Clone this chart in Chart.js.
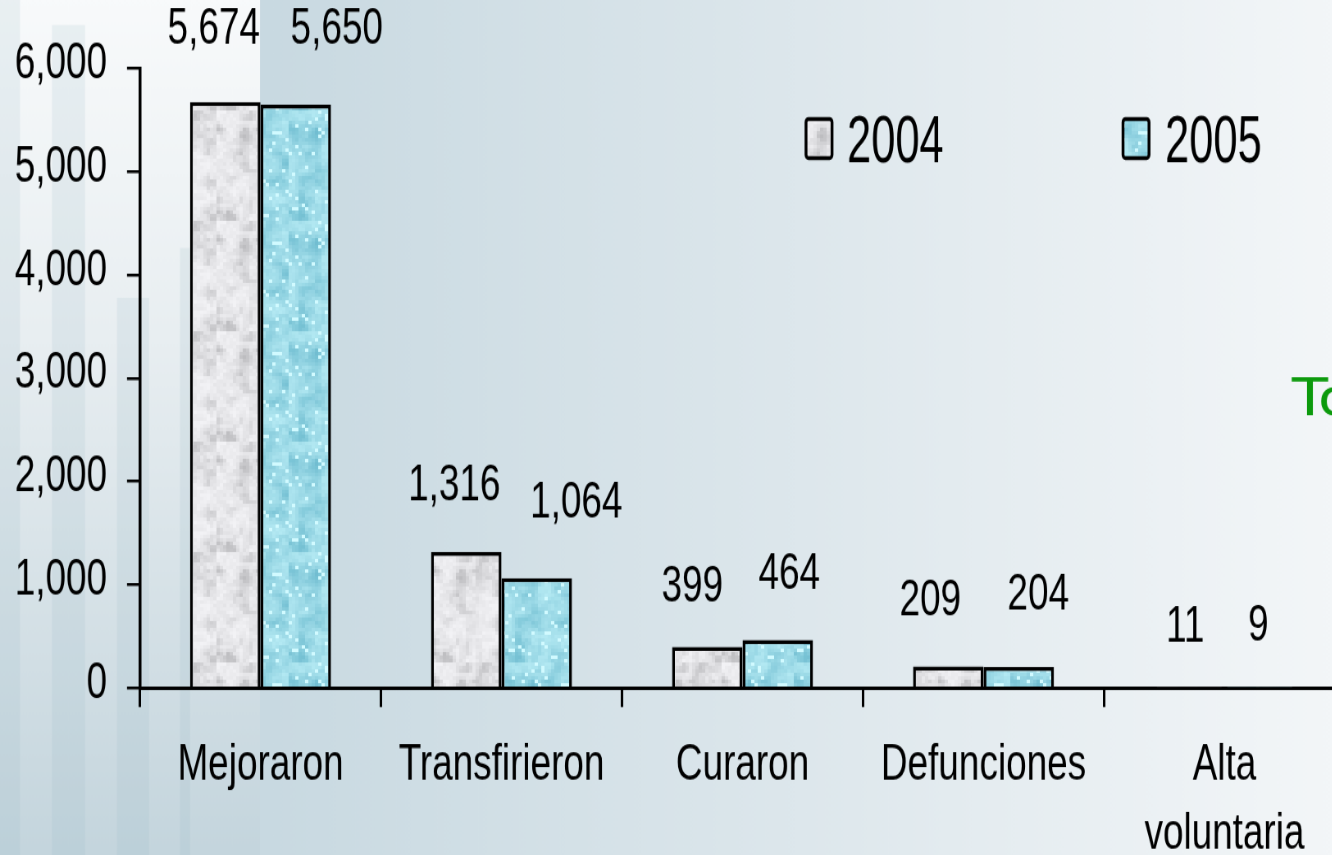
<!DOCTYPE html>
<html><head><meta charset="utf-8">
<script src="https://cdn.jsdelivr.net/npm/chart.js@4.4.1/dist/chart.umd.min.js"></script>
<style>
html,body{margin:0;padding:0;overflow:hidden;width:1332px;height:855px;background:#dfe8ed;}
#wrap{position:absolute;left:0;top:0;transform-origin:0 0;}
</style></head><body>
<div id="wrap"><canvas id="c"></canvas></div>
<script>
// ---- data ----
const categories = ['Mejoraron', 'Transfirieron', 'Curaron', 'Defunciones', ['Alta', 'voluntaria']];
const seriesNames = ['2004', '2005'];
const values2004 = [5674, 1316, 399, 209, 11];
const values2005 = [5650, 1064, 464, 204, 9];
const yTickValues = [0, 1000, 2000, 3000, 4000, 5000, 6000];

// ---- layout / style constants ----
// The original picture is a narrow-font chart stretched; we draw with Liberation Sans
// on a larger canvas and squeeze it horizontally / stretch it vertically.
const SX = 0.82, SY = 1.15;
const CW = 1660, CH = 744;
const X = v => v / SX;           // screen px -> canvas px (horizontal)
const Y = v => v / SY;           // screen px -> canvas px (vertical)
const FONT = "'Liberation Sans', Arial, sans-serif";
// value-label placement relative to each bar (screen pixels: dx, dy from bar top)
const labelShift2004 = [[-11.5, -72.5], [-12, -66], [-15, -60], [-18, -66], [-4, -60]];
const labelShift2005 = [[41, -75.5], [39.5, -74.5], [11.5, -65], [19.5, -72], [-1.5, -61]];

const wrap = document.getElementById('wrap');
wrap.style.transform = 'scale(' + SX + ',' + SY + ')';
const canvas = document.getElementById('c');
canvas.width = CW; canvas.height = CH;
canvas.style.width = CW + 'px'; canvas.style.height = CH + 'px';
const ctx0 = canvas.getContext('2d');

function hash(i, j) { const v = Math.sin(i * 127.1 + j * 311.7) * 43758.5453; return v - Math.floor(v); }
function vnoise(x, y) {
  const xi = Math.floor(x), yi = Math.floor(y), xf = x - xi, yf = y - yi;
  const sx = xf * xf * (3 - 2 * xf), sy = yf * yf * (3 - 2 * yf);
  const a = hash(xi, yi), b = hash(xi + 1, yi), c = hash(xi, yi + 1), d = hash(xi + 1, yi + 1);
  return a + (b - a) * sx + (c - a) * sy + (a - b - c + d) * sx * sy;
}
function makeTile(kind) {
  const t = document.createElement('canvas');
  const W = 88, H = 96, BX = 4, BY = 3;
  t.width = W; t.height = H;
  const c = t.getContext('2d');
  for (let by = 0; by < H / BY; by++) {
    for (let bx = 0; bx < W / BX; bx++) {
      const n = 0.6 * vnoise(bx / 4 + (kind ? 7 : 0), by / 5) + 0.4 * vnoise(bx / 1.7, by / 1.7 + 3);
      const h = hash(bx + 31, by + (kind ? 57 : 11));
      let r, g, b;
      if (!kind) {
        const l = 238 - 70 * Math.pow(Math.max(0, n - 0.2) / 0.8, 2.2) + (h - 0.5) * 10;
        r = l; g = l; b = l + 3;
      } else {
        const k = Math.pow(Math.max(0, n - 0.15) / 0.85, 1.5);
        r = 178 - 70 * k; g = 232 - 45 * k; b = 242 - 35 * k;
        if (h > 0.93) { r = 205; g = 247; b = 253; }
        r += (h - 0.5) * 10; g += (h - 0.5) * 8; b += (h - 0.5) * 6;
      }
      c.fillStyle = 'rgb(' + (r | 0) + ',' + (g | 0) + ',' + (b | 0) + ')';
      c.fillRect(bx * BX, by * BY, BX, BY);
    }
  }
  return ctx0.createPattern(t, 'repeat');
}
const grayPattern = makeTile(0);
const cyanPattern = makeTile(1);

const bgPlugin = {
  id: 'bg',
  beforeDraw(chart) {
    const { ctx, width, height } = chart;
    ctx.save();
    const g = ctx.createLinearGradient(X(260), 0, X(1332), 0);
    g.addColorStop(0, '#c8d9e1'); g.addColorStop(0.5, '#dde7ec'); g.addColorStop(1, '#f3f6f8');
    ctx.fillStyle = g; ctx.fillRect(0, 0, width, height);
    const v = ctx.createLinearGradient(0, 0, 0, height);
    v.addColorStop(0, '#f8fafb'); v.addColorStop(0.4, '#e8eef1'); v.addColorStop(1, '#c4d5dd');
    ctx.fillStyle = v; ctx.fillRect(0, 0, X(260), height);
    ctx.fillStyle = 'rgba(150,180,196,0.15)';
    [[0, 0, 20], [52, 25, 33], [117, 298, 32], [180, 248, 10]].forEach(([x, y, w]) => ctx.fillRect(X(x), Y(y), X(w), height));
    ctx.restore();
  }
};

const valueLabelPlugin = {
  id: 'valueLabels',
  afterDatasetsDraw(chart) {
    const { ctx } = chart;
    ctx.save();
    ctx.font = '45px ' + FONT;
    ctx.fillStyle = '#000';
    ctx.textAlign = 'center';
    ctx.textBaseline = 'middle';
    const shifts = [labelShift2004, labelShift2005];
    chart.data.datasets.forEach((ds, di) => {
      chart.getDatasetMeta(di).data.forEach((bar, i) => {
        const [dx, dy] = shifts[di][i];
        ctx.fillText(ds.data[i].toLocaleString('en-US'), bar.x + X(dx), bar.y + Y(dy));
      });
    });
    ctx.restore();
  }
};

const legendPlugin = {
  id: 'customLegend',
  afterDraw(chart) {
    const { ctx } = chart;
    const items = [{ bx: 806, tx: 847 }, { bx: 1123, tx: 1165 }];
    ctx.save();
    chart.data.datasets.forEach((ds, i) => {
      const it = items[i];
      ctx.beginPath();
      ctx.roundRect(X(it.bx), Y(119), X(26), Y(39), 3);
      ctx.fillStyle = ds.backgroundColor;
      ctx.fill();
      ctx.lineWidth = 3.5;
      ctx.strokeStyle = '#000';
      ctx.stroke();
      ctx.save();
      ctx.translate(X(it.tx), Y(162));
      ctx.scale(1, 1.07);
      ctx.font = '53px ' + FONT;
      ctx.fillStyle = '#000';
      ctx.textBaseline = 'alphabetic';
      ctx.textAlign = 'left';
      ctx.fillText(ds.label, 0, 0);
      ctx.restore();
    });
    ctx.save();
    ctx.translate(X(1292), Y(415));
    ctx.scale(1.6, 1);
    ctx.fillStyle = '#0c9a0c';
    ctx.font = '45px "DejaVu Sans"';
    ctx.textAlign = 'left';
    ctx.textBaseline = 'alphabetic';
    ctx.fillText('To', 0, 0);
    ctx.restore();
    ctx.restore();
  }
};

new Chart(canvas, {
  type: 'bar',
  data: {
    labels: categories,
    datasets: [
      { label: seriesNames[0], data: values2004, backgroundColor: grayPattern, borderColor: '#000', borderWidth: 3.5 },
      { label: seriesNames[1], data: values2005, backgroundColor: cyanPattern, borderColor: '#000', borderWidth: 3.5 }
    ]
  },
  options: {
    responsive: false,
    animation: false,
    devicePixelRatio: 1,
    locale: 'en-US',
    layout: { padding: { top: Y(68.5), right: CW - X(1345), left: 0, bottom: 0 } },
    datasets: { bar: { categoryPercentage: 0.585, barPercentage: 1.0 } },
    plugins: { legend: { display: false }, tooltip: { enabled: false } },
    scales: {
      x: {
        z: 1,
        grid: { display: true, drawOnChartArea: false, drawTicks: true, tickLength: Y(19), color: '#000', lineWidth: 3 },
        border: { display: true, color: '#000', width: 3 },
        ticks: { color: '#000', font: { family: FONT, size: 45, lineHeight: Y(70) / 45 }, padding: Y(23), maxRotation: 0, autoSkip: false },
        afterFit(scale) { scale.height = CH - Y(688); }
      },
      y: {
        min: 0, max: 6000,
        afterBuildTicks(scale) { scale.ticks = yTickValues.map(v => ({ value: v })); },
        grid: { display: true, drawOnChartArea: false, drawTicks: true, tickLength: X(13), color: '#000', lineWidth: 2.5 },
        border: { display: true, color: '#000', width: 3.5 },
        ticks: { color: '#000', font: { family: FONT, size: 45 }, padding: X(20), labelOffset: -4,
          callback: v => v.toLocaleString('en-US') },
        afterFit(scale) { scale.width = X(140); }
      }
    }
  },
  plugins: [bgPlugin, valueLabelPlugin, legendPlugin]
});
</script>
</body></html>
